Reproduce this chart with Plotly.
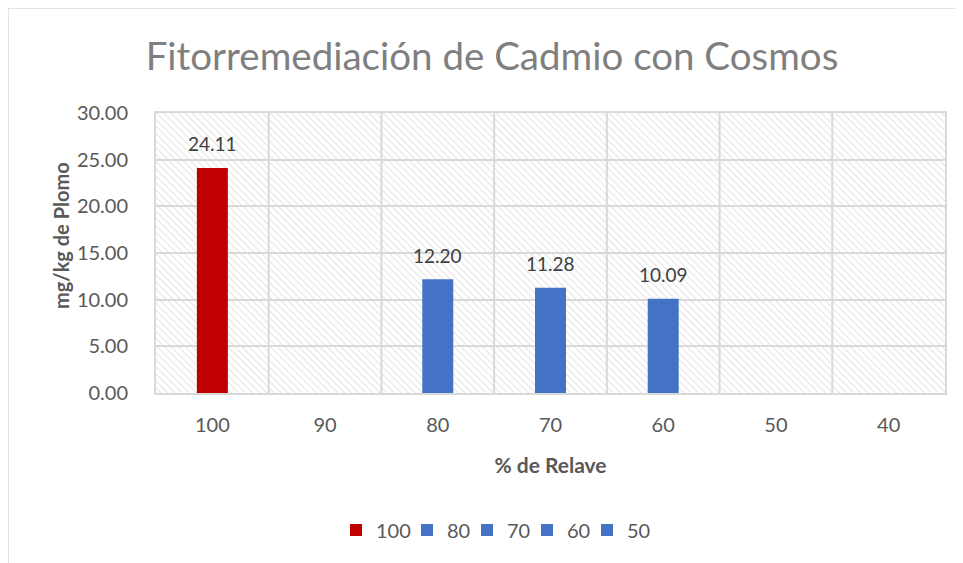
import base64
import plotly.graph_objects as go

# ---- data ----
categories = ["100", "90", "80", "70", "60", "50", "40"]
series_names = ["100", "80", "70", "60", "50"]
series_x = ["100", "80", "70", "60", "50"]
series_values = [24.11, 12.20, 11.28, 10.09, None]
series_colors = ["#C00000", "#4472C4", "#4472C4", "#4472C4", "#4472C4"]
y_ticks = [0, 5, 10, 15, 20, 25, 30]

title_text = "Fitorremediación de Cadmio con Cosmos"
x_title = "% de Relave"
y_title = "mg/kg de Plomo"

W, H = 963, 563
OFF = 8  # page body margin
L, R, T, B = 156 - OFF, 945 - OFF, 113 - OFF, 393 - OFF

pw, ph = R - L, B - T

def px(x):
    return (x - OFF - L) / pw

def py(y):
    return (B - (y - OFF)) / ph

legend_keys = ["legend", "legend2", "legend3", "legend4", "legend5"]
legend_square_px = [350, 421, 481, 541, 601]  # layout positions of legend entries
leg_font = dict(family="Lato", size=20, color="#595959")

fig = go.Figure()
for name, x, v, c, lk in zip(series_names, series_x, series_values, series_colors, legend_keys):
    fig.add_trace(go.Bar(
        name=name, x=[x], y=[v],
        marker=dict(color=c, line=dict(width=0)),
        hoverinfo="x+y",
        legend=lk,
    ))
    if v is not None:
        fig.add_annotation(x=categories.index(x), y=v, text=f"{v:.2f}", showarrow=False,
                           yanchor="middle", yshift=24,
                           font=dict(family="Lato", size=19, color="#404040"))

legends = {}
for lk, sx in zip(legend_keys, legend_square_px):
    legends[lk] = dict(orientation="h", x=px(sx - 14), xanchor="left", y=py(530),
                       yanchor="middle", font=leg_font, itemwidth=30,
                       bgcolor="rgba(0,0,0,0)")

# hatched plot-area background (decoration)
svg = ("<svg xmlns='http://www.w3.org/2000/svg' width='789' height='280'>"
       "<defs><pattern id='p' width='5' height='5' patternUnits='userSpaceOnUse' "
       "patternTransform='rotate(-45)'><rect width='5' height='5' fill='white'/>"
       "<line x1='0' y1='0' x2='0' y2='5' stroke='#d6d6d6' stroke-width='1.3'/></pattern></defs>"
       "<rect width='100%' height='100%' fill='url(#p)'/></svg>")
src = "data:image/svg+xml;base64," + base64.b64encode(svg.encode()).decode()

fig.update_layout(
    width=W, height=H,
    margin=dict(l=L, r=W - R, t=T, b=H - B, autoexpand=False),
    paper_bgcolor="white",
    plot_bgcolor="rgba(0,0,0,0)",
    barmode="overlay",
    bargap=0.725,
    title=dict(text=title_text, x=px(492), xref="paper", xanchor="center",
               y=1 - (57 - OFF) / H, yanchor="middle",
               font=dict(family="Lato", size=38.5, color="#7f7f7f")),
    font=dict(family="Lato", color="#595959"),
    showlegend=True,
    images=[dict(source=src, xref="paper", yref="paper", x=0, y=1, sizex=1, sizey=1,
                 xanchor="left", yanchor="top", sizing="stretch", layer="below")],
    shapes=[
        dict(type="rect", xref="paper", yref="paper", x0=px(8), x1=px(985), y0=py(590), y1=py(8),
             line=dict(color="#d9d9d9", width=1.5), fillcolor="rgba(0,0,0,0)", layer="below"),
    ],
    **legends,
)

fig.add_annotation(text="<b>" + y_title + "</b>", xref="paper", yref="paper",
                   x=px(61), y=py(236), textangle=-90, showarrow=False,
                   xanchor="center", yanchor="middle",
                   font=dict(family="Lato", size=20, color="#595959"))

fig.update_xaxes(
    type="category", categoryorder="array", categoryarray=categories,
    range=[-0.5, len(categories) - 0.5],
    showgrid=False, showline=True, linecolor="#d9d9d9", linewidth=2, mirror=True,
    ticks="", ticklabelstandoff=13,
    tickfont=dict(family="Lato", size=20, color="#595959"),
    title=dict(text="<b>" + x_title + "</b>", standoff=23,
               font=dict(family="Lato", size=21, color="#595959")),
    automargin=False,
)
fig.update_yaxes(
    range=[0, 30], tickvals=y_ticks, tickformat=".2f",
    showgrid=True, gridcolor="#d9d9d9", gridwidth=2,
    showline=True, linecolor="#d9d9d9", linewidth=2, mirror=True,
    zeroline=False, ticks="", ticklabelstandoff=22,
    tickfont=dict(family="Lato", size=20, color="#595959"),
    automargin=False,
)

for i in range(1, len(categories)):
    fig.add_vline(x=i - 0.5, line=dict(color="#d9d9d9", width=2), layer="below")

fig.write_html("out.html")
